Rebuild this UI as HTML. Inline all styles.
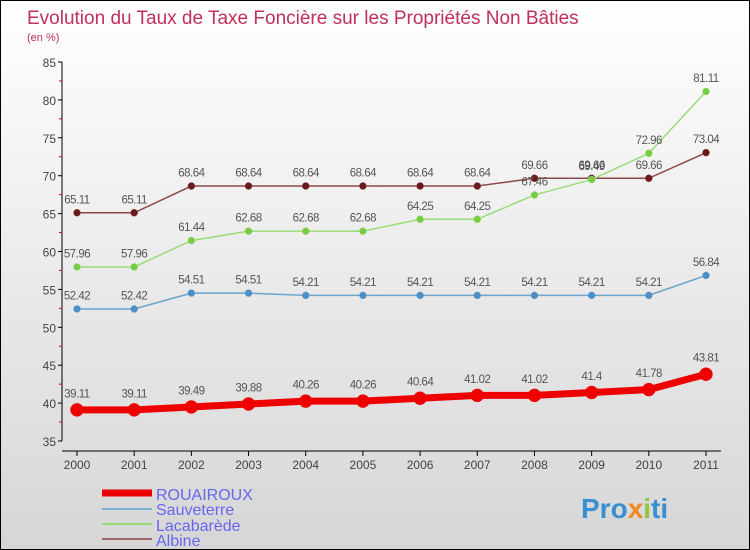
<!DOCTYPE html>
<html><head><meta charset="utf-8"><style>
body{margin:0}
#c{width:748px;height:548px;border:1px solid #000;background:linear-gradient(#fff,#d6d6d6);position:relative;font-family:"Liberation Sans",sans-serif;overflow:hidden}
</style></head><body>
<div id="c">
<svg id="s" width="748" height="548">
<text x="26" y="23" font-size="19" fill="#c0305a">Evolution du Taux de Taxe Foncière sur les Propriétés Non Bâties</text>
<text x="26" y="40" font-size="11" fill="#c0305a">(en %)</text>
<g id="axes"></g><g id="series"></g>
<g>
<line x1="101" y1="492" x2="151" y2="492" stroke="#e00" stroke-width="7"/>
<text x="155" y="499" font-size="16" fill="#6666ee">ROUAIROUX</text>
<line x1="101" y1="508" x2="151" y2="508" stroke="#7fb0d0" stroke-width="2"/>
<text x="155" y="514" font-size="16" fill="#6666ee">Sauveterre</text>
<line x1="101" y1="523" x2="151" y2="523" stroke="#99dd77" stroke-width="2"/>
<text x="155" y="530" font-size="16" fill="#6666ee">Lacabarède</text>
<line x1="101" y1="538" x2="151" y2="538" stroke="#996666" stroke-width="2"/>
<text x="155" y="545" font-size="16" fill="#6666ee">Albine</text>
</g>
<text x="580" y="517" font-size="28" font-weight="bold" fill="#3a8fd0">Pro<tspan fill="#f08a20">x</tspan><tspan fill="#8cc63f">i</tspan>ti</text>
</svg></div>
<script>
const years=[2000,2001,2002,2003,2004,2005,2006,2007,2008,2009,2010,2011];
const yTicks=[35,40,45,50,55,60,65,70,75,80,85];
const rouairoux=[39.11,39.11,39.49,39.88,40.26,40.26,40.64,41.02,41.02,41.4,41.78,43.81];
const sauveterre=[52.42,52.42,54.51,54.51,54.21,54.21,54.21,54.21,54.21,54.21,54.21,56.84];
const lacabarede=[57.96,57.96,61.44,62.68,62.68,62.68,64.25,64.25,67.46,69.49,72.96,81.11];
const albine=[65.11,65.11,68.64,68.64,68.64,68.64,68.64,68.64,69.66,69.66,69.66,73.04];
const NS="http://www.w3.org/2000/svg";
const X=i=>76+i*(705-76)/11;
const Y=v=>440-(v-35)*(379/50);
function mk(t,a,p){const e=document.createElementNS(NS,t);for(const k in a)e.setAttribute(k,a[k]);p.appendChild(e);return e;}
const ax=document.getElementById('axes');
const yl=mk('line',{x1:61,y1:61,x2:61,y2:440,stroke:'#000'},ax);


const xl=mk('line',{x1:61,y1:450,x2:720,y2:450,stroke:'#000'},ax);


yTicks.forEach((v,i)=>{
 mk('line',{x1:57,x2:61,y1:Y(v),y2:Y(v),stroke:'#000'},ax);
 if(i<yTicks.length-1)mk('line',{x1:58,x2:61,y1:Y(v+2.5),y2:Y(v+2.5),stroke:'#d00'},ax);
 const t=mk('text',{x:55,y:Y(v)+5,'text-anchor':'end','font-size':12,fill:'#444'},ax);t.textContent=v;
 
 
});
years.forEach((y,i)=>{
 mk('line',{x1:X(i),x2:X(i),y1:450,y2:455,stroke:'#000'},ax);
 const t=mk('text',{x:X(i),y:468,'text-anchor':'middle','font-size':12,fill:'#444'},ax);t.textContent=y;
 
 
});
const sg=document.getElementById('series');
function draw(vals,col,dot,w,r,name){
 const g=mk('g',{},sg);
 
 
 const pl=mk('polyline',{points:vals.map((v,i)=>X(i)+','+Y(v)).join(' '),fill:'none',stroke:col,'stroke-width':w},g);
 
 
 vals.forEach((v,i)=>{
  const c=mk('circle',{cx:X(i),cy:Y(v),r:r,fill:dot,stroke:col,'stroke-width':0.5},g);
  
  
  const t=mk('text',{x:X(i),y:Y(v)-r-6,'text-anchor':'middle','font-size':11.5,fill:'#555','letter-spacing':'-0.5'},g);
  t.textContent=v;
  
  
 });
}
draw(albine,'#8a4a4a','#6a1a1a',1.5,3.5,'albine');
draw(lacabarede,'#99dd77','#77cc44',1.5,3.5,'lacabarede');
draw(sauveterre,'#6aa3cc','#4a8fc8',1.5,3.5,'sauveterre');
draw(rouairoux,'#ee0000','#ee0000',7,6.5,'rouairoux');
</script>
</body></html>
